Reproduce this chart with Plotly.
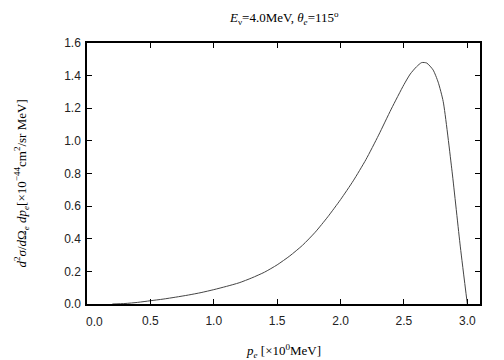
import plotly.graph_objects as go

p_e = [0.2, 0.3, 0.4, 0.5, 0.6, 0.7, 0.8, 0.9, 1.0, 1.1, 1.2, 1.3, 1.4, 1.5, 1.6, 1.7, 1.8, 1.9, 2.0,
       2.1, 2.2, 2.3, 2.4, 2.5, 2.55, 2.6, 2.64, 2.68, 2.73, 2.77, 2.81, 2.88, 2.945, 3.0]
xsec = [0.0, 0.003, 0.01, 0.02, 0.03, 0.042, 0.055, 0.07, 0.088, 0.108, 0.13, 0.16, 0.195, 0.24, 0.295,
        0.36, 0.44, 0.535, 0.64, 0.755, 0.885, 1.035, 1.195, 1.345, 1.41, 1.455, 1.48, 1.477, 1.435,
        1.36, 1.24, 0.81, 0.35, 0.0]

x_ticks = [0.0, 0.5, 1.0, 1.5, 2.0, 2.5, 3.0]
x_tick_labels = ["0.0", "0.5", "1.0", "1.5", "2.0", "2.5", "3.0"]
y_ticks = [0.0, 0.2, 0.4, 0.6, 0.8, 1.0, 1.2, 1.4, 1.6]
y_tick_labels = ["0.0", "0.2", "0.4", "0.6", "0.8", "1.0", "1.2", "1.4", "1.6"]

fig = go.Figure()
fig.add_trace(go.Scatter(x=p_e, y=xsec, mode="lines",
                         line=dict(color="#444444", width=1, shape="spline", smoothing=0.6),
                         showlegend=False, hoverinfo="skip"))

serif = "Liberation Serif, Times New Roman, serif"
sans = "Liberation Sans, Arial, sans-serif"
tickfont = dict(family=sans, size=12, color="#222222")

axis_common = dict(showline=True, linecolor="black", linewidth=1.5, mirror="allticks",
                   ticks="inside", ticklen=5, tickcolor="black", tickwidth=1,
                   showgrid=False, zeroline=False, tickfont=tickfont)

# first x label is shifted right (as in the reference) to avoid the y "0.0"
x_text = [""] + x_tick_labels[1:]

fig.update_layout(
    width=496, height=352,
    margin=dict(l=79, r=24, t=35, b=56),
    paper_bgcolor="white", plot_bgcolor="white",
    xaxis=dict(range=[0, 3.1], tickvals=x_ticks, ticktext=x_text, ticklabelstandoff=5, **axis_common),
    yaxis=dict(range=[0, 1.6], tickvals=y_ticks, ticktext=y_tick_labels, ticklabelstandoff=2, **axis_common),
    annotations=[
        dict(text=x_tick_labels[0], xref="x", yref="paper", x=x_ticks[0], y=0, xshift=7, yshift=-18,
             xanchor="center", yanchor="middle", showarrow=False, font=tickfont),
        dict(text="<i>E</i><sub>ν</sub>=4.0MeV, <i>θ</i><sub><i>e</i></sub>=115<sup>o</sup>",
             xref="paper", yref="paper", x=0.5, y=1, yshift=25, xanchor="center", yanchor="middle",
             showarrow=False, font=dict(family=serif, size=13, color="black")),
        dict(text="<i>p</i><sub><i>e</i></sub> [×10<sup>0</sup>MeV]",
             xref="paper", yref="paper", x=0.5, y=0, yshift=-47, xanchor="center", yanchor="middle",
             showarrow=False, font=dict(family=serif, size=13, color="black")),
        dict(text="<i>d</i><sup>2</sup><i>σ</i>/<i>d</i>Ω<sub><i>e</i></sub> <i>dp</i><sub><i>e</i></sub>[×10<sup>−44</sup>cm<sup>2</sup>/sr MeV]",
             xref="paper", yref="paper", x=0, xshift=-66, y=0.5, yshift=-10, xanchor="center", yanchor="middle",
             textangle=-90, showarrow=False, font=dict(family=serif, size=13, color="black")),
    ],
)

fig.write_html("out.html")
